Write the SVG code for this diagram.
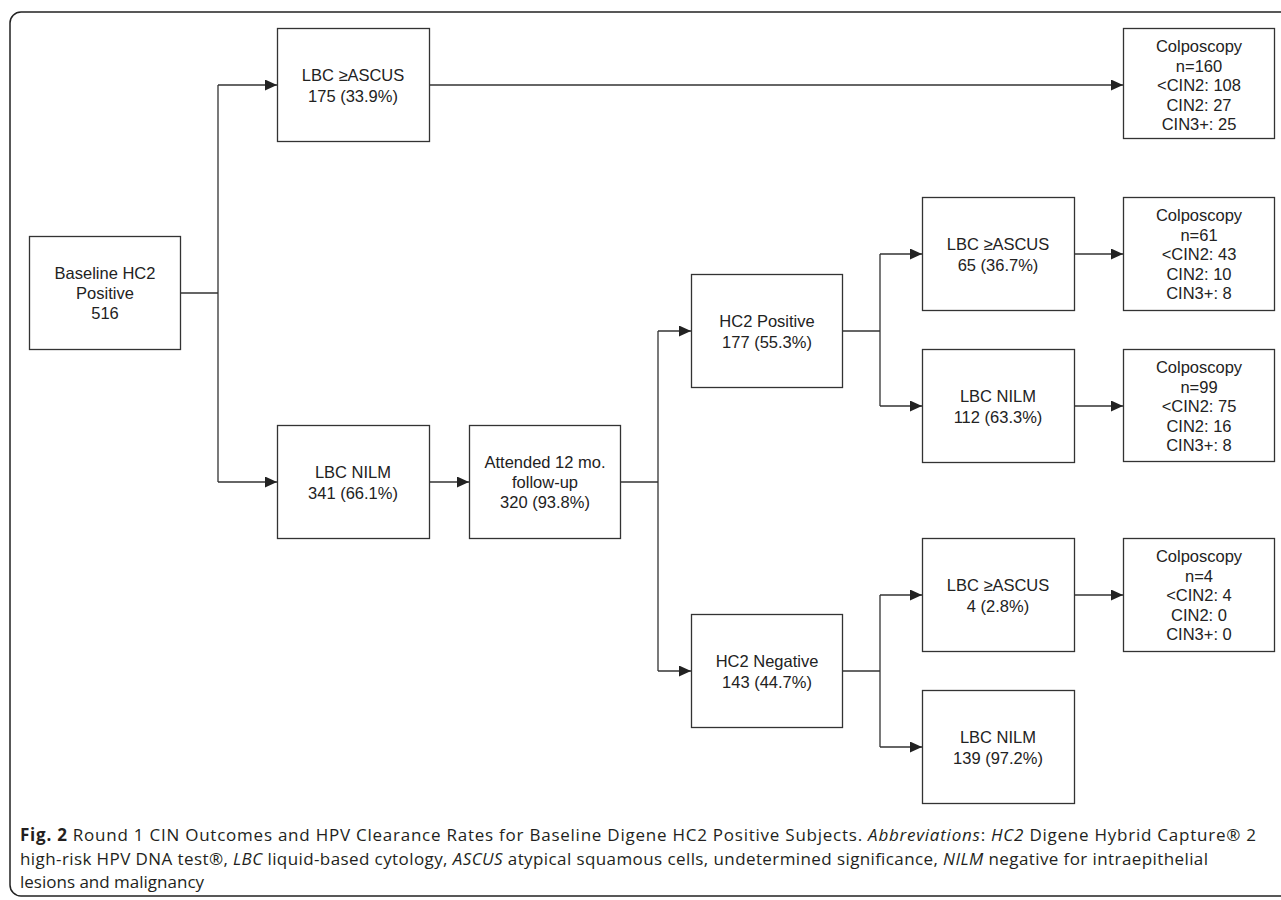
<svg xmlns="http://www.w3.org/2000/svg" width="1281" height="900" viewBox="0 0 1281 900">
<defs>
<marker id="arr" markerUnits="userSpaceOnUse" markerWidth="13" markerHeight="12" refX="12" refY="5.5" orient="auto">
<path d="M0,0 L12,5.5 L0,11 z" fill="#222"/>
</marker>
<style>
.box{fill:#fff;stroke:#333;stroke-width:1.3}
.t{font-family:"Liberation Sans",Arial,sans-serif;font-size:16.5px;fill:#222;text-anchor:middle}
.c{fill:none;stroke:#333;stroke-width:1.3}
.a{marker-end:url(#arr)}
.cap{font-family:"Open Sans","Noto Sans",sans-serif;font-size:17px;fill:#231f20}
</style>
</defs>
<rect width="1281" height="900" fill="#fff"/>
<rect x="10" y="12" width="1300" height="884" rx="11" fill="none" stroke="#222" stroke-width="1.5"/>

<g id="connectors">
<path class="c" d="M180,293 H218 M218,85 V482 M620,482 H658 M658,331 V671 M842,331 H880 M880,254 V406 M842,671 H880 M880,595 V747"/>
<path class="c a" d="M218,85 H277"/>
<path class="c a" d="M218,482 H277"/>
<path class="c a" d="M429,85 H1123"/>
<path class="c a" d="M429,482 H469"/>
<path class="c a" d="M658,331 H691"/>
<path class="c a" d="M658,671 H691"/>
<path class="c a" d="M880,254 H922"/>
<path class="c a" d="M880,406 H922"/>
<path class="c a" d="M880,595 H922"/>
<path class="c a" d="M880,747 H922"/>
<path class="c a" d="M1074,254 H1123"/>
<path class="c a" d="M1074,406 H1123"/>
<path class="c a" d="M1074,595 H1123"/>
</g>

<g id="baseline">
<rect class="box" x="29.5" y="236.5" width="151" height="113"/>
<text class="t" x="105" y="279">Baseline HC2</text>
<text class="t" x="105" y="299">Positive</text>
<text class="t" x="105" y="319">516</text>
</g>
<g id="lbc-ascus-1">
<rect class="box" x="277.5" y="28.5" width="152" height="113"/>
<text class="t" x="353" y="81">LBC ≥ASCUS</text>
<text class="t" x="353" y="102">175 (33.9%)</text>
</g>
<g id="lbc-nilm-1">
<rect class="box" x="277.5" y="425.5" width="152" height="113"/>
<text class="t" x="353" y="478">LBC NILM</text>
<text class="t" x="353" y="499">341 (66.1%)</text>
</g>
<g id="attended">
<rect class="box" x="469.5" y="425.5" width="151" height="113"/>
<text class="t" x="545" y="468">Attended 12 mo.</text>
<text class="t" x="545" y="488">follow-up</text>
<text class="t" x="545" y="508">320 (93.8%)</text>
</g>
<g id="hc2-positive">
<rect class="box" x="691.5" y="274.5" width="151" height="113"/>
<text class="t" x="767" y="327">HC2 Positive</text>
<text class="t" x="767" y="348">177 (55.3%)</text>
</g>
<g id="hc2-negative">
<rect class="box" x="691.5" y="614.5" width="151" height="113"/>
<text class="t" x="767" y="667">HC2 Negative</text>
<text class="t" x="767" y="688">143 (44.7%)</text>
</g>
<g id="lbc-ascus-2">
<rect class="box" x="922.5" y="197.5" width="152" height="113"/>
<text class="t" x="998" y="250">LBC ≥ASCUS</text>
<text class="t" x="998" y="271">65 (36.7%)</text>
</g>
<g id="lbc-nilm-2">
<rect class="box" x="922.5" y="349.5" width="152" height="113"/>
<text class="t" x="998" y="402">LBC NILM</text>
<text class="t" x="998" y="423">112 (63.3%)</text>
</g>
<g id="lbc-ascus-3">
<rect class="box" x="922.5" y="538.5" width="152" height="113"/>
<text class="t" x="998" y="591">LBC ≥ASCUS</text>
<text class="t" x="998" y="612">4 (2.8%)</text>
</g>
<g id="lbc-nilm-3">
<rect class="box" x="922.5" y="690.5" width="152" height="113"/>
<text class="t" x="998" y="743">LBC NILM</text>
<text class="t" x="998" y="764">139 (97.2%)</text>
</g>
<g id="colpo-1">
<rect class="box" x="1123.5" y="28.5" width="151" height="110"/>
<text class="t" x="1199" y="52">Colposcopy</text>
<text class="t" x="1199" y="71.5">n=160</text>
<text class="t" x="1199" y="91">&lt;CIN2: 108</text>
<text class="t" x="1199" y="110.5">CIN2: 27</text>
<text class="t" x="1199" y="130">CIN3+: 25</text>
</g>
<g id="colpo-2">
<rect class="box" x="1123.5" y="197.5" width="151" height="113"/>
<text class="t" x="1199" y="221">Colposcopy</text>
<text class="t" x="1199" y="240.5">n=61</text>
<text class="t" x="1199" y="260">&lt;CIN2: 43</text>
<text class="t" x="1199" y="279.5">CIN2: 10</text>
<text class="t" x="1199" y="299">CIN3+: 8</text>
</g>
<g id="colpo-3">
<rect class="box" x="1123.5" y="349.5" width="151" height="112"/>
<text class="t" x="1199" y="373">Colposcopy</text>
<text class="t" x="1199" y="392.5">n=99</text>
<text class="t" x="1199" y="412">&lt;CIN2: 75</text>
<text class="t" x="1199" y="431.5">CIN2: 16</text>
<text class="t" x="1199" y="451">CIN3+: 8</text>
</g>
<g id="colpo-4">
<rect class="box" x="1123.5" y="538.5" width="151" height="113"/>
<text class="t" x="1199" y="562">Colposcopy</text>
<text class="t" x="1199" y="581.5">n=4</text>
<text class="t" x="1199" y="601">&lt;CIN2: 4</text>
<text class="t" x="1199" y="620.5">CIN2: 0</text>
<text class="t" x="1199" y="640">CIN3+: 0</text>
</g>

<g id="caption">
<text class="cap" x="20" y="841" textLength="1236" lengthAdjust="spacing"><tspan font-weight="bold">Fig. 2</tspan> Round 1 CIN Outcomes and HPV Clearance Rates for Baseline Digene HC2 Positive Subjects. <tspan font-style="italic">Abbreviations</tspan>: <tspan font-style="italic">HC2</tspan> Digene Hybrid Capture® 2</text>
<text class="cap" x="20" y="864.5" textLength="1188" lengthAdjust="spacing">high-risk HPV DNA test®, <tspan font-style="italic">LBC</tspan> liquid-based cytology, <tspan font-style="italic">ASCUS</tspan> atypical squamous cells, undetermined significance, <tspan font-style="italic">NILM</tspan> negative for intraepithelial</text>
<text class="cap" x="20" y="888">lesions and malignancy</text>
</g>
</svg>
